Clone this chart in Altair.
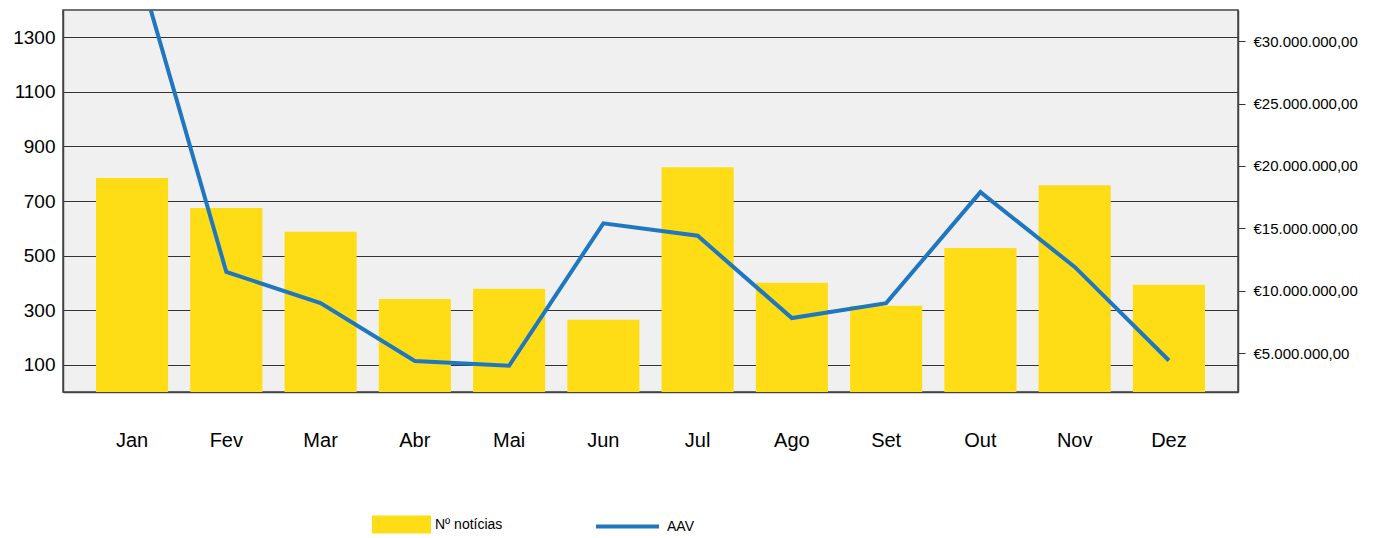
import altair as alt
import pandas as pd

meses = ["Jan", "Fev", "Mar", "Abr", "Mai", "Jun", "Jul", "Ago", "Set", "Out", "Nov", "Dez"]
noticias = [784, 674, 587, 341, 378, 265, 824, 400, 316, 528, 758, 393]
aav = [37.7e6, 11.5e6, 9.0e6, 4.36e6, 3.98e6, 15.4e6, 14.4e6, 7.8e6, 9.0e6, 17.9e6, 11.9e6, 4.4e6]
left_ticks = [100, 300, 500, 700, 900, 1100, 1300]
right_ticks = [5e6, 10e6, 15e6, 20e6, 25e6, 30e6]

df = pd.DataFrame({
    "mes": meses,
    "noticias": noticias,
    "aav": aav,
    "s1": ["Nº notícias"] * len(meses),
    "s2": ["AAV"] * len(meses),
})

FONT = "Liberation Sans"
FRAME = "#444444"

x = alt.X(
    "mes:N",
    sort=meses,
    scale=alt.Scale(paddingInner=0.235, paddingOuter=0.35),
    axis=alt.Axis(title=None, labelAngle=0, ticks=False, domain=True,
                  domainColor=FRAME, domainWidth=1.5,
                  labelFontSize=20, labelPadding=38, labelFont=FONT,
                  labelColor="#000000"),
)

bars = alt.Chart(df).mark_bar(clip=True).encode(
    x=x,
    y=alt.Y("noticias:Q",
            scale=alt.Scale(domain=[0, 1400], nice=False, zero=True),
            axis=alt.Axis(title=None, values=left_ticks, format="d", ticks=False,
                          domain=True, domainColor=FRAME, domainWidth=1.5,
                          grid=True, gridColor="#333333", gridWidth=1,
                          labelFontSize=19, labelPadding=8, labelFont=FONT,
                          labelColor="#000000")),
    fill=alt.Fill("s1:N",
                  scale=alt.Scale(domain=["Nº notícias"], range=["#FEDD17"]),
                  legend=alt.Legend(title=None, orient="none", legendX=309, legendY=485,
                                    symbolType="M-1,-0.305L1,-0.305L1,0.305L-1,0.305Z",
                                    symbolSize=3481, symbolStrokeWidth=0,
                                    labelFontSize=14, labelOffset=4, labelFont=FONT,
                                    labelColor="#000000", padding=0)),
)

line = alt.Chart(df).mark_line(strokeWidth=4, clip=True).encode(
    x=x,
    y=alt.Y("aav:Q",
            scale=alt.Scale(domain=[1.875e6, 32.5e6], nice=False, zero=False),
            axis=alt.Axis(title=None, orient="right", values=right_ticks, grid=False,
                          domain=True, domainColor=FRAME, domainWidth=1.5,
                          ticks=True, tickSize=7, tickColor="#333333",
                          labelFontSize=15, labelPadding=8, labelFont=FONT,
                          labelColor="#000000",
                          labelExpr="'€' + format(datum.value / 1000000, 'd') + '.000.000,00'")),
    stroke=alt.Stroke("s2:N",
                      scale=alt.Scale(domain=["AAV"], range=["#1F77C0"]),
                      legend=alt.Legend(title=None, orient="none", legendX=531, legendY=483,
                                        symbolType="stroke", symbolSize=3969,
                                        symbolStrokeWidth=4,
                                        labelFontSize=14, labelOffset=6, labelFont=FONT,
                                        labelColor="#000000", padding=0)),
)

chart = alt.layer(bars, line).resolve_scale(y="independent").properties(
    width=1175,
    height=382,
    autosize=alt.AutoSizeParams(type="none"),
    padding={"left": 55, "top": 2, "right": 135, "bottom": 144},
    view=alt.ViewBackground(fill="#F0F0F0", stroke=FRAME, strokeWidth=1.5),
).configure_view(
    fill="#F0F0F0", stroke=FRAME, strokeWidth=1.5
).configure(background="#FFFFFF")

chart.save("out.html", embed_options={"renderer": "svg", "actions": False})
